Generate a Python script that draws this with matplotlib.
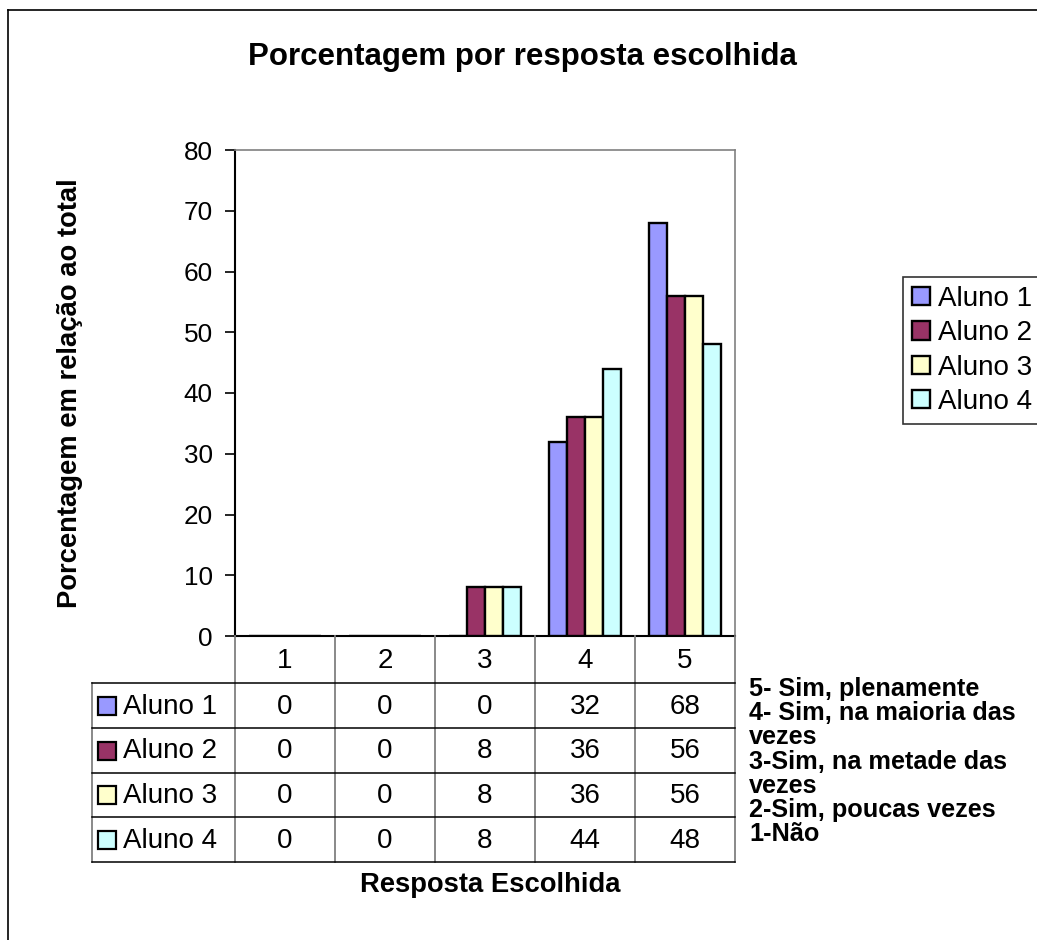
import matplotlib
matplotlib.use('Agg')
import matplotlib.pyplot as plt
from matplotlib.patches import Rectangle
from matplotlib.lines import Line2D
import numpy as np

# ---- data ----
categories = ['1', '2', '3', '4', '5']
series_names = ['Aluno 1', 'Aluno 2', 'Aluno 3', 'Aluno 4']
aluno1 = [0, 0, 0, 32, 68]
aluno2 = [0, 0, 8, 36, 56]
aluno3 = [0, 0, 8, 36, 56]
aluno4 = [0, 0, 8, 44, 48]
y_ticks = [0, 10, 20, 30, 40, 50, 60, 70, 80]
colors = ['#9999FF', '#993366', '#FFFFCC', '#CCFFFF']
title = 'Porcentagem por resposta escolhida'
ylabel = 'Porcentagem em relação ao total'
xlabel = 'Resposta Escolhida'
notes = ['5- Sim, plenamente', '4- Sim, na maioria das', 'vezes',
         '3-Sim, na metade das', 'vezes', '2-Sim, poucas vezes', '1-Não']

series = [aluno1, aluno2, aluno3, aluno4]

plt.rcParams['font.family'] = ['Liberation Sans', 'DejaVu Sans']

W, H = 1037, 940
fig = plt.figure(figsize=(W / 100, H / 100), dpi=100)
fig.patch.set_facecolor('white')


def fx(x):
    return x / W


def fy(y):
    return 1 - y / H


# plot area in pixels
L, R, T, B = 235, 735, 150, 636
ax = fig.add_axes([fx(L), fy(B), fx(R) - fx(L), fy(T) - fy(B)])
x = np.arange(len(categories))
bw = 1 / 5.5
bars = []
for i, (name, vals, c) in enumerate(zip(series_names, series, colors)):
    b = ax.bar(x + (i - 1.5) * bw, vals, bw, color=c, edgecolor='black',
               linewidth=1.7, label=name, zorder=3)
    bars.append(b)
ax.set_xlim(-0.5, len(categories) - 0.5)
ax.set_ylim(0, 80)
ax.set_yticks(y_ticks)
ax.set_xticks([])
ax.tick_params(axis='y', length=7, width=1.2, direction='out', labelsize=18.8,
               pad=9, color='black')
for s in ['left', 'bottom']:
    ax.spines[s].set_color('black')
    ax.spines[s].set_linewidth(1.5)
for s in ['top', 'right']:
    ax.spines[s].set_color('#808080')
    ax.spines[s].set_linewidth(1.2)
ax.set_facecolor('white')

# title & y label
fig.text(fx(248), fy(57), title, ha='left', va='center', fontsize=22.5,
         fontweight='bold')
fig.text(fx(70), fy(393), ylabel, ha='center', va='center', fontsize=19.7,
         fontweight='bold', rotation=90)

# ---- data table ----
FS = 20
col_w = (R - L) / len(categories)
hdr_bottom = 683
row_edges = [683, 728, 773, 817, 862]
tab_left = 92
gray = '#808080'


def line(xs, ys, color='black', lw=1.2):
    fig.add_artist(Line2D([fx(v) for v in xs], [fy(v) for v in ys],
                          transform=fig.transFigure, color=color, lw=lw))


# vertical lines
for j in range(len(categories) + 1):
    xx = L + j * col_w
    line([xx, xx], [B, row_edges[-1]], color=gray, lw=1.3)
line([tab_left, tab_left], [row_edges[0], row_edges[-1]], color=gray, lw=1.3)
# horizontal lines
for ye in row_edges:
    line([tab_left, R], [ye, ye], color='black', lw=1.1)

# header
for j, cat in enumerate(categories):
    fig.text(fx(L + (j + 0.5) * col_w), fy((B + hdr_bottom) / 2 + 1), cat,
             ha='center', va='center', fontsize=FS)
# rows
for i, (name, vals, c) in enumerate(zip(series_names, series, colors)):
    yc = (row_edges[i] + row_edges[i + 1]) / 2
    sq = 18
    fig.add_artist(Rectangle((fx(98), fy(yc + sq / 2)), sq / W, sq / H,
                             transform=fig.transFigure, facecolor=c,
                             edgecolor='black', lw=1.6))
    fig.text(fx(123), fy(yc + 1), name, ha='left', va='center', fontsize=FS)
    for j, v in enumerate(vals):
        fig.text(fx(L + (j + 0.5) * col_w), fy(yc + 1), str(v), ha='center',
                 va='center', fontsize=FS)

fig.text(fx(490), fy(885), xlabel, ha='center', va='center', fontsize=19.7,
         fontweight='bold')

# notes
for k, t in enumerate(notes):
    fig.text(fx(749), fy(689 + k * 24.2), t, ha='left', va='center',
             fontsize=18.2, fontweight='bold')

# legend
leg = fig.legend(handles=[b[0] for b in bars], labels=series_names,
                 loc='upper left', bbox_to_anchor=(fx(903), fy(277)),
                 frameon=True, fancybox=False, edgecolor='black',
                 fontsize=FS, handlelength=0.65, handleheight=0.65,
                 handletextpad=0.29, borderpad=0.32, labelspacing=0.3,
                 borderaxespad=0)
leg.get_frame().set_linewidth(1.2)

# outer border
line([8, 8], [10, 940], color='black', lw=1.2)
line([8, 1037], [10, 10], color='black', lw=1.2)

fig.savefig('out.png', dpi=100)
